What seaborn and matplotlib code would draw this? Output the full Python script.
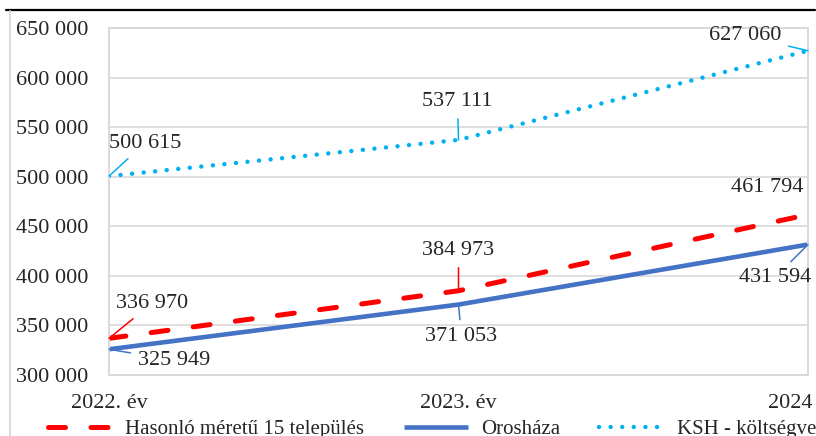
import matplotlib
matplotlib.use('Agg')
import matplotlib.pyplot as plt
from matplotlib.lines import Line2D
from matplotlib.transforms import ScaledTranslation
import seaborn as sns

# data
years = ['2022. év', '2023. év', '2024']
hasonlo = [336970, 384973, 461794]
oroshaza = [325949, 371053, 431594]
ksh = [500615, 537111, 627060]

series_names = ['Hasonló méretű 15 település', 'Orosháza', 'KSH - költségvetés']

sns.set_theme(style='whitegrid')
plt.rcParams['font.family'] = ['Liberation Serif', 'DejaVu Serif']

FS = 16
fig = plt.figure(figsize=(8.16, 4.36), dpi=100)
ax = fig.add_axes([109 / 816, 1 - 375 / 436, (808 - 109) / 816, (375 - 28) / 436])

xpos = list(range(len(years)))

red_line = sns.lineplot(x=xpos, y=hasonlo, ax=ax, color='#FF0000', lw=3.6,
                        label=series_names[0]).lines[-1]
red_line.set_dashes((3.4, 5.1))
red_line.set_dash_capstyle('round')

blue_line = sns.lineplot(x=xpos, y=oroshaza, ax=ax, color='#4472C4', lw=3.3,
                         label=series_names[1]).lines[-1]
blue_line.set_solid_capstyle('butt')

cyan_line = sns.lineplot(x=xpos, y=ksh, ax=ax, color='#00B0F0', lw=3.2,
                         label=series_names[2]).lines[-1]
cyan_line.set_dashes((0.01, 2.6))
cyan_line.set_dash_capstyle('round')

ax.set_xlim(0, 2)
ax.set_ylim(300000, 650000)
ax.set_yticks(range(300000, 650001, 50000))
ax.set_yticklabels([f'{v:,}'.replace(',', ' ') for v in range(300000, 650001, 50000)])
ax.set_xticks(xpos)
ax.set_xticklabels(years)
ax.tick_params(axis='y', labelsize=FS, pad=15, length=0)
ax.tick_params(axis='x', labelsize=FS, pad=14, length=0)
for lab in ax.get_yticklabels() + ax.get_xticklabels():
    lab.set_color('#262626')
# last year label sits inside the figure, right aligned
last = ax.get_xticklabels()[-1]
last.set_ha('right')
last.set_transform(last.get_transform() + ScaledTranslation(5 / 100, 0, fig.dpi_scale_trans))

ax.grid(axis='y', color='#D9D9D9', lw=1.2)
ax.grid(axis='x', visible=False)
for sp in ax.spines.values():
    sp.set_color('#D9D9D9')
    sp.set_linewidth(1.4)
ax.set_xlabel('')
ax.set_ylabel('')
ax.get_legend().remove()

# data labels (offsets in pixels from the point)
def fmt(v):
    return f'{v:,}'.replace(',', ' ')

label_spec = [
    (hasonlo, '#FF0000', [(43, 35), (0, 40), (-41, 27)], [True, True, False]),
    (oroshaza, '#4472C4', [(65, -11), (3, -32), (-33, -33)], [True, True, True]),
    (ksh, '#00B0F0', [(36, 33), (-1, 38), (-63, 15)], [True, True, True]),
]
for vals, col, offs, leaders in label_spec:
    for i, v in enumerate(vals):
        arrow = None
        if leaders[i]:
            arrow = dict(arrowstyle='-', color=col, lw=1.1, shrinkA=3, shrinkB=0)
        ax.annotate(fmt(v), xy=(xpos[i], v), xytext=offs[i], textcoords='offset pixels',
                    ha='center', va='center', fontsize=FS, color='#262626',
                    arrowprops=arrow, annotation_clip=False)

# legend along the bottom
handles = [red_line, blue_line, cyan_line]
fig.legend(handles, series_names, loc='center left', bbox_to_anchor=(48 / 816, 1 - 429 / 436),
           ncol=3, frameon=False, fontsize=15, handlelength=3.1, handletextpad=0.6,
           columnspacing=1.9, borderaxespad=0, borderpad=0, labelcolor='#262626')

# outer frame bits
fig.add_artist(Line2D([6 / 816, 815 / 816], [1 - 10 / 436, 1 - 10 / 436], color='black', lw=1.6))
fig.add_artist(Line2D([10 / 816, 10 / 816], [0, 1 - 11 / 436], color='#D9D9D9', lw=1.4))

plt.savefig('out.png', dpi=100)
